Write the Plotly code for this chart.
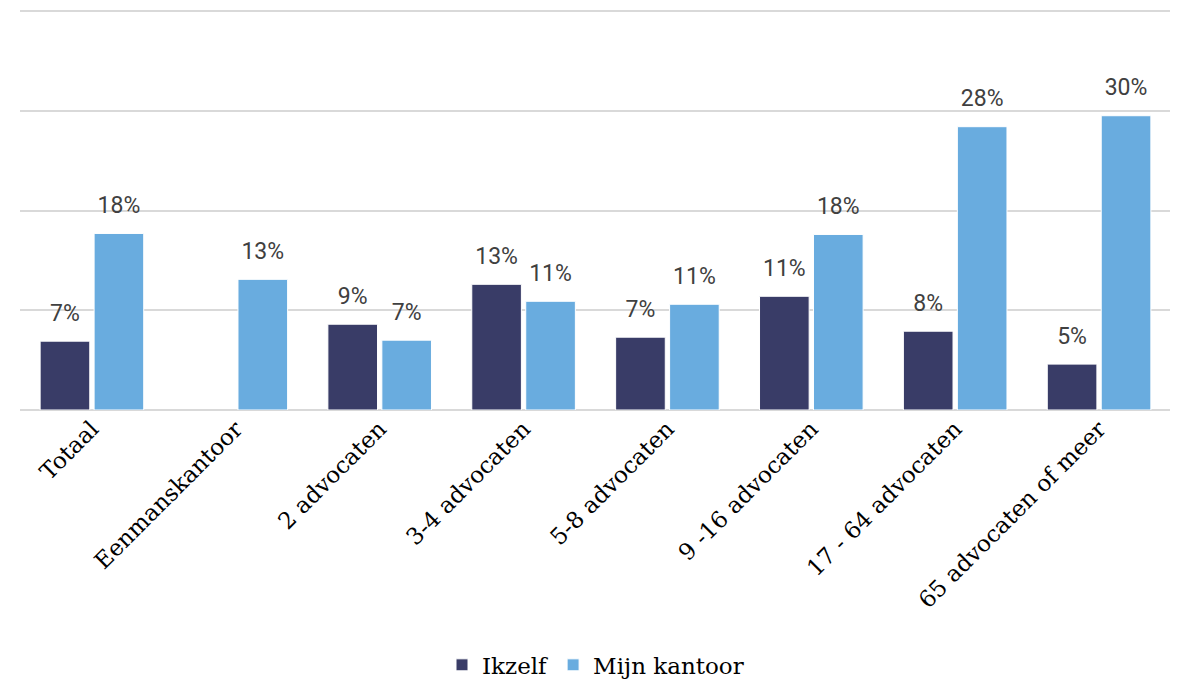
import plotly.graph_objects as go

categories = ["Totaal", "Eenmanskantoor", "2 advocaten", "3-4 advocaten", "5-8 advocaten",
              "9 -16 advocaten", "17 - 64 advocaten", "65 advocaten of meer"]
ikzelf = [6.9, None, 8.6, 12.6, 7.3, 11.4, 7.9, 4.6]
mijn_kantoor = [17.7, 13.1, 7.0, 10.9, 10.6, 17.6, 28.4, 29.5]
series = [("Ikzelf", ikzelf, "#393C67"), ("Mijn kantoor", mijn_kantoor, "#69ACDF")]

fig = go.Figure()
for i, (name, vals, col) in enumerate(series):
    fig.add_trace(go.Bar(
        x=categories, y=vals, name=name, offsetgroup=str(i),
        marker=dict(color=col, line=dict(color="white", width=1)),
    ))
for i, (name, vals, col) in enumerate(series):
    fig.add_trace(go.Scatter(
        x=categories, y=vals, name=name + " labels", offsetgroup=str(i),
        mode="markers+text", showlegend=False, hoverinfo="skip",
        marker=dict(size=22, opacity=0),
        texttemplate="%{y:.0f}%", textposition="top center",
        textfont=dict(family="Roboto", size=23, color="#404040"),
        cliponaxis=False,
    ))

fig.update_layout(
    width=1170, height=672,
    margin=dict(l=12, r=7, t=0, b=270, autoexpand=False),
    paper_bgcolor="white", plot_bgcolor="white",
    barmode="group", bargap=0.25, bargroupgap=0.08,
    scattermode="group", scattergap=0.25,
    font=dict(family="DejaVu Serif", size=23, color="#000000"),
    showlegend=True,
    legend=dict(orientation="h", x=0.5, xanchor="center", y=-0.634, yanchor="middle",
                font=dict(family="DejaVu Serif", size=23, color="#000000"),
                itemwidth=30, traceorder="normal"),
)
fig.update_xaxes(tickangle=-45, tickfont=dict(family="DejaVu Serif", size=23, color="#000000"),
                 showgrid=False, showline=False, ticks="", automargin=False)
fig.update_yaxes(range=[0, 40.3], tickvals=[10, 20, 30, 40], showgrid=True, gridcolor="#D9D9D9",
                 gridwidth=2, showticklabels=False, zeroline=True, zerolinecolor="#D9D9D9",
                 zerolinewidth=2, automargin=False)

fig.write_html("out.html")
